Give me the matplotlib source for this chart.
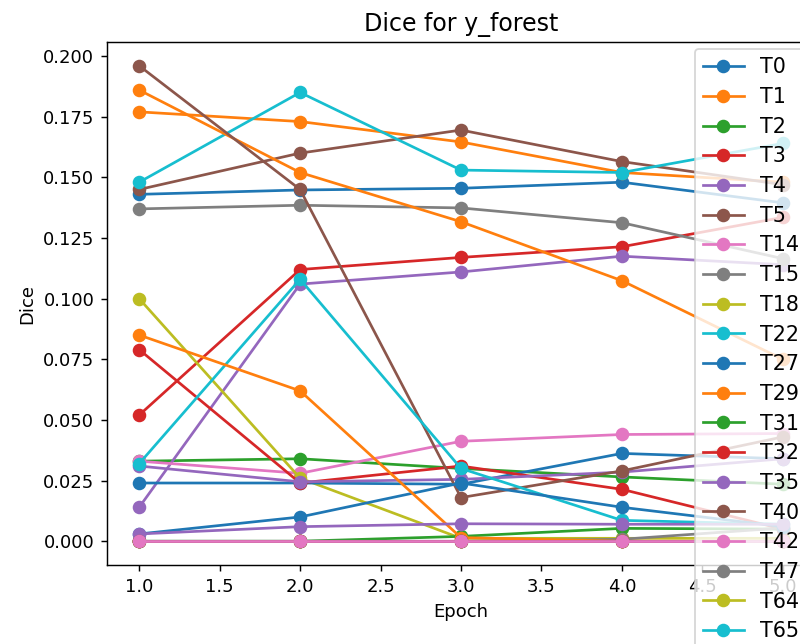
import matplotlib
matplotlib.use("Agg")
import matplotlib.pyplot as plt

epochs = [1, 2, 3, 4, 5]

# Dice per class and epoch
labels = ["T0", "T1", "T2", "T3", "T4", "T5", "T14", "T15", "T18", "T22",
          "T27", "T29", "T31", "T32", "T35", "T40", "T42", "T47", "T64", "T65",
          "T66", "T67", "T68", "T69", "T70", "T71", "T72"]

dice = [
    [0.143, 0.1448, 0.1455, 0.148, 0.1395],   # T0
    [0.177, 0.173, 0.1646, 0.152, 0.148],     # T1
    [0.033, 0.034, 0.030, 0.0265, 0.0235],    # T2
    [0.052, 0.112, 0.117, 0.1214, 0.1335],    # T3
    [0.014, 0.106, 0.111, 0.1175, 0.114],     # T4
    [0.145, 0.160, 0.1695, 0.1565, 0.147],    # T5
    [0.033, 0.028, 0.0412, 0.044, 0.0444],    # T14
    [0.137, 0.1385, 0.1374, 0.1313, 0.1165],  # T15
    [0.100, 0.026, 0.0012, 0.0012, 0.0012],   # T18
    [0.148, 0.185, 0.153, 0.152, 0.164],      # T22
    [0.024, 0.024, 0.0235, 0.0362, 0.034],    # T27
    [0.186, 0.152, 0.1317, 0.1074, 0.075],    # T29
    [0.0, 0.0, 0.002, 0.0053, 0.005],         # T31
    [0.079, 0.024, 0.031, 0.0214, 0.005],     # T32
    [0.031, 0.0245, 0.0255, 0.0285, 0.034],   # T35
    [0.196, 0.145, 0.018, 0.029, 0.043],      # T40
    [0.0, 0.0, 0.0, 0.0, 0.0],                # T42
    [0.0, 0.0, 0.0, 0.0008, 0.0055],          # T47
    [0.0, 0.0, 0.0, 0.0, 0.0],                # T64
    [0.032, 0.108, 0.030, 0.0086, 0.007],     # T65
    [0.003, 0.010, 0.024, 0.014, 0.006],      # T66
    [0.085, 0.062, 0.0015, 0.0, 0.0],         # T67
    [0.0, 0.0, 0.0, 0.0, 0.0],                # T68
    [0.0, 0.0, 0.0, 0.0, 0.0],                # T69
    [0.003, 0.006, 0.0072, 0.007, 0.007],     # T70
    [0.0, 0.0, 0.0, 0.0, 0.0],                # T71
    [0.0, 0.0, 0.0, 0.0, 0.0],                # T72
]

dpi = 130
fig = plt.figure(figsize=(800 / dpi, 644 / dpi), dpi=dpi)
# axes runs past the right edge of the picture, as in the reference
ax = fig.add_axes([107 / 800, 79 / 644, 708 / 800, 523 / 644])

for lab, vals in zip(labels, dice):
    ax.plot(epochs, vals, marker="o", markersize=6.5, label=lab)

ax.set_title("Dice for y_forest", fontsize=13.2)
ax.set_xlabel("Epoch")
ax.set_ylabel("Dice")
ax.legend(loc="upper right", fontsize=11.4, borderaxespad=0.35, labelspacing=0.47)

fig.savefig("out.png", dpi=dpi)
